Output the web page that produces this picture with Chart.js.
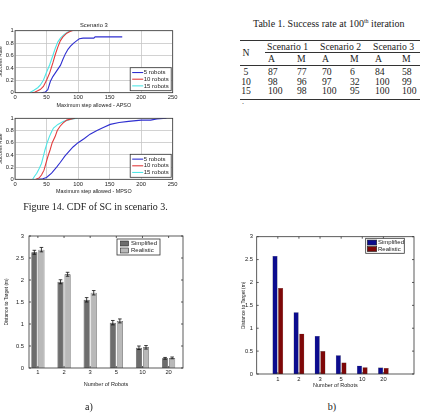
<!DOCTYPE html>
<html><head><meta charset="utf-8"><title>CDF and distance charts</title>
<script src="https://cdn.jsdelivr.net/npm/chart.js@4.4.1/dist/chart.umd.min.js"></script>
<style>
html,body{margin:0;padding:0;background:#fff;}
body{width:422px;height:414px;overflow:hidden;position:relative;font-family:"Liberation Serif","Times New Roman",serif;color:#1a1a1a;}
canvas{position:absolute;}
.tx{position:absolute;white-space:nowrap;line-height:1;transform:translate(0,-50%);}
.tc{position:absolute;white-space:nowrap;line-height:1;transform:translate(-50%,-50%);}
.rule{position:absolute;height:0;border-top:1px solid #333;}
sup{font-size:0.6em;vertical-align:0.6em;line-height:0;}
</style></head><body>
<script>
// ---------------- data ----------------
const cdfSeriesLabels = ['5 robots', '10 robots', '15 robots'];
const cdfXTicks = [0, 50, 100, 150, 200, 250];
const cdfYTicks = [0, 0.2, 0.4, 0.6, 0.8, 1];
// [max step allowed, success rate]
const apso5 = [[42,0],[48,0.01],[52,0.05],[56,0.18],[60,0.26],[64,0.32],[68,0.38],[72,0.44],[76,0.54],[80,0.63],[84,0.7],[88,0.75],[93,0.8],[98,0.84],[102,0.87],[108,0.88],[125,0.88],[127,0.9],[170,0.9]];
const apso10 = [[27,0],[32,0.01],[40,0.05],[45,0.1],[50,0.2],[55,0.32],[60,0.48],[64,0.62],[68,0.74],[72,0.84],[76,0.9],[82,0.96],[88,0.99],[91,1]];
const apso15 = [[23,0],[30,0.04],[36,0.08],[40,0.12],[45,0.2],[50,0.33],[55,0.45],[60,0.6],[64,0.72],[68,0.82],[72,0.88],[78,0.94],[84,0.98],[88,1]];
const mpso5 = [[37,0],[44,0.01],[50,0.03],[58,0.1],[66,0.2],[72,0.28],[79,0.38],[86,0.46],[92,0.53],[100,0.6],[110,0.67],[119,0.74],[130,0.8],[140,0.85],[151,0.9],[165,0.93],[180,0.95],[200,0.97],[215,0.97],[225,0.99],[240,1]];
const mpso10 = [[33,0],[38,0.02],[42,0.07],[46,0.15],[49,0.26],[52,0.37],[55.6,0.48],[59,0.6],[63.6,0.7],[67,0.8],[71.5,0.87],[76,0.92],[82,0.97],[90,0.99],[95,1]];
const mpso15 = [[28,0],[31,0.05],[34.5,0.1],[38,0.17],[42,0.26],[45,0.38],[47.5,0.48],[51,0.6],[54.5,0.7],[58,0.78],[61,0.84],[68,0.9],[77,0.95],[88,0.98],[98,1]];

const robotCounts = ['1', '2', '3', '5', '10', '20'];
const barLabels = ['Simplified', 'Realistic'];
const distTicks = [0, 0.5, 1, 1.5, 2, 2.5, 3];
const simplifiedA = [2.63, 1.96, 1.55, 1.03, 0.46, 0.22];
const realisticA  = [2.69, 2.13, 1.71, 1.07, 0.47, 0.23];
const simplifiedAErr = [0.045, 0.045, 0.05, 0.05, 0.04, 0.02];
const realisticAErr  = [0.05, 0.045, 0.05, 0.045, 0.04, 0.02];
const simplifiedB = [2.58, 1.35, 0.83, 0.41, 0.18, 0.14];
const realisticB  = [1.88, 0.88, 0.50, 0.25, 0.15, 0.13];

const tableScenarios = ['Scenario 1', 'Scenario 2', 'Scenario 3'];
const tableSubCols = ['A', 'M', 'A', 'M', 'A', 'M'];
const tableN = ['5', '10', '15'];
const tableRows = [
  [87, 77, 70, 6, 84, 58],
  [98, 96, 97, 32, 100, 99],
  [100, 98, 100, 95, 100, 100]
];

// ---------------- helpers ----------------
const SANS = "'Liberation Sans', Arial, Helvetica, sans-serif";
const TXT = '#222';
function mkCanvas(left, top, w, h) {
  const c = document.createElement('canvas');
  c.width = w; c.height = h;
  c.style.left = left + 'px'; c.style.top = top + 'px';
  c.style.width = w + 'px'; c.style.height = h + 'px';
  document.body.appendChild(c);
  return c;
}
function addText(cls, x, y, size, html) {
  const d = document.createElement('div');
  d.className = cls;
  d.style.left = x + 'px'; d.style.top = y + 'px'; d.style.fontSize = size + 'px';
  d.innerHTML = html;
  document.body.appendChild(d);
}
function addRule(x1, x2, y) {
  const d = document.createElement('div');
  d.className = 'rule';
  d.style.left = x1 + 'px'; d.style.width = (x2 - x1) + 'px'; d.style.top = y + 'px';
  document.body.appendChild(d);
}
const toXY = arr => arr.map(p => ({x: p[0], y: p[1]}));
const fmt = v => String(+(+v).toFixed(2));

// ---------------- plugins ----------------
const framePlugin = {
  id: 'frame',
  afterDatasetsDraw(chart, args, o) {
    const {ctx, chartArea: a} = chart;
    ctx.save();
    ctx.strokeStyle = o.color || '#333';
    ctx.lineWidth = o.width || 0.8;
    const tl = o.tick || 0;
    if (tl) {
      ctx.beginPath();
      const ys = chart.scales.y, xs = chart.scales.x;
      ys.ticks.forEach(t => { const y = ys.getPixelForValue(t.value);
        ctx.moveTo(a.left, y); ctx.lineTo(a.left + tl, y);
        ctx.moveTo(a.right, y); ctx.lineTo(a.right - tl, y); });
      xs.ticks.forEach(t => { const x = xs.getPixelForValue(t.value);
        ctx.moveTo(x, a.bottom); ctx.lineTo(x, a.bottom - tl);
        ctx.moveTo(x, a.top); ctx.lineTo(x, a.top + tl); });
      ctx.stroke();
    }
    ctx.strokeRect(a.left, a.top, a.right - a.left, a.bottom - a.top);
    if (o.title) {
      ctx.fillStyle = TXT;
      ctx.font = o.titleSize + 'px ' + SANS;
      ctx.textAlign = 'center'; ctx.textBaseline = 'middle';
      ctx.fillText(o.title, (a.left + a.right) / 2, a.top - o.titleGap);
    }
    ctx.restore();
  }
};
const errorBarPlugin = {
  id: 'errorBars',
  afterDatasetsDraw(chart) {
    const ctx = chart.ctx, ys = chart.scales.y;
    ctx.save(); ctx.strokeStyle = '#111'; ctx.lineWidth = 0.8;
    chart.data.datasets.forEach((ds, di) => {
      if (!ds.errorBars) return;
      const meta = chart.getDatasetMeta(di);
      meta.data.forEach((el, i) => {
        const v = ds.data[i].y, e = ds.errorBars[i];
        const x = el.x, y1 = ys.getPixelForValue(v + e), y2 = ys.getPixelForValue(v - e);
        const cap = 1.8;
        ctx.beginPath();
        ctx.moveTo(x, y1); ctx.lineTo(x, y2);
        ctx.moveTo(x - cap, y1); ctx.lineTo(x + cap, y1);
        ctx.moveTo(x - cap, y2); ctx.lineTo(x + cap, y2);
        ctx.stroke();
      });
    });
    ctx.restore();
  }
};
const insideLegendPlugin = {
  id: 'insideLegend',
  afterDraw(chart, args, o) {
    const {ctx, chartArea: a} = chart;
    const dss = chart.data.datasets;
    const x0 = a.right - o.right - o.w;
    const y0 = (o.top !== undefined && o.top !== null) ? a.top + o.top : a.bottom - o.bottom - o.h;
    ctx.save();
    ctx.fillStyle = '#fff';
    ctx.fillRect(x0, y0, o.w, o.h);
    ctx.strokeStyle = '#333'; ctx.lineWidth = 0.8;
    ctx.strokeRect(x0, y0, o.w, o.h);
    const rowH = (o.h - 2 * o.pad) / dss.length;
    ctx.font = o.size + 'px ' + SANS;
    ctx.textBaseline = 'middle'; ctx.textAlign = 'left';
    dss.forEach((ds, i) => {
      const cy = y0 + o.pad + (i + 0.5) * rowH;
      if (o.kind === 'line') {
        ctx.strokeStyle = ds.borderColor; ctx.lineWidth = 1.1;
        ctx.beginPath(); ctx.moveTo(x0 + o.sx, cy); ctx.lineTo(x0 + o.sx + o.sw, cy); ctx.stroke();
      } else {
        ctx.fillStyle = ds.backgroundColor;
        ctx.fillRect(x0 + o.sx, cy - o.sh / 2, o.sw, o.sh);
        ctx.strokeStyle = '#222'; ctx.lineWidth = 0.6;
        ctx.strokeRect(x0 + o.sx, cy - o.sh / 2, o.sw, o.sh);
      }
      ctx.fillStyle = TXT;
      ctx.fillText(ds.label, x0 + o.tx, cy);
    });
    ctx.restore();
  }
};

// ---------------- CDF charts ----------------
const cdfColors = ['#2f2fd0', '#e23c3c', '#4fe6e6'];
function cdfChart(canvas, series, xTitle, opts) {
  return new Chart(canvas, {
    type: 'line',
    data: {
      datasets: series.map((s, i) => ({
        label: cdfSeriesLabels[i], data: toXY(s),
        borderColor: cdfColors[i], backgroundColor: cdfColors[i],
        borderWidth: 1.1, pointRadius: 0, tension: 0, fill: false
      }))
    },
    options: {
      responsive: false, animation: false, devicePixelRatio: 1,
      layout: {padding: {left: 0, right: opts.padRight, top: opts.padTop, bottom: 0}},
      plugins: {
        legend: {display: false}, tooltip: {enabled: false},
        frame: {color: '#3a3a3a', width: 0.8, title: opts.title, titleSize: 5.8, titleGap: 5.5},
        insideLegend: {kind: 'line', right: 1.5, bottom: 2, w: 41, h: 23, pad: 1.5, sx: 2, sw: 11, tx: 13.5, size: 6}
      },
      scales: {
        x: {
          type: 'linear', min: 0, max: 250,
          afterBuildTicks: s => { s.ticks = cdfXTicks.map(v => ({value: v})); },
          ticks: {callback: fmt, font: {size: 5.8, family: SANS}, color: TXT, padding: 1.2, maxRotation: 0},
          grid: {color: '#c6c6c6', lineWidth: 0.8, drawTicks: false},
          border: {display: false},
          title: {display: true, text: xTitle, font: {size: 5.4, family: SANS}, color: TXT, padding: {top: 0, bottom: 2.6}},
          afterFit: s => { s.height = opts.xHeight; }
        },
        y: {
          min: 0, max: 1,
          afterBuildTicks: s => { s.ticks = cdfYTicks.map(v => ({value: v})); },
          ticks: {callback: fmt, font: {size: 5.8, family: SANS}, color: TXT, padding: 1.2},
          grid: {color: '#c6c6c6', lineWidth: 0.8, drawTicks: false},
          border: {display: false},
          title: {display: true, text: 'Success Rate', font: {size: 5, family: SANS}, color: TXT, padding: {top: 0, bottom: 0}},
          afterFit: s => { s.width = 17; }
        }
      }
    },
    plugins: [framePlugin, insideLegendPlugin]
  });
}
cdfChart(mkCanvas(-2, 18, 182, 93), [apso5, apso10, apso15], 'Maximum step allowed - APSO',
  {padRight: 7.3, padTop: 12.7, xHeight: 18.3, title: 'Scenario 3'});
cdfChart(mkCanvas(-2, 110, 182, 87), [mpso5, mpso10, mpso15], 'Maximum step allowed - MPSO',
  {padRight: 7.3, padTop: 8.3, xHeight: 17.7, title: ''});

// ---------------- bar charts ----------------
function barChart(canvas, vals, colors, errs, opts) {
  return new Chart(canvas, {
    type: 'bar',
    data: {
      datasets: vals.map((arr, i) => ({
        label: barLabels[i],
        data: arr.map((v, j) => ({x: j + 1, y: v})),
        backgroundColor: colors[i], borderColor: opts.barBorder, borderWidth: opts.barBorderWidth,
        categoryPercentage: opts.catPct, barPercentage: opts.barPct,
        errorBars: errs ? errs[i] : null
      }))
    },
    options: {
      responsive: false, animation: false, devicePixelRatio: 1,
      layout: {padding: {left: 0, right: opts.padRight, top: opts.padTop, bottom: 0}},
      plugins: {
        legend: {display: false}, tooltip: {enabled: false},
        frame: {color: '#333', width: 0.8, tick: 2},
        insideLegend: Object.assign({kind: 'box', pad: 1, size: 6}, opts.legend)
      },
      scales: {
        x: {
          type: 'linear', min: opts.xMin, max: opts.xMax, offset: false,
          afterBuildTicks: s => { s.ticks = robotCounts.map((c, i) => ({value: i + 1})); },
          ticks: {callback: (v) => robotCounts[Math.round(v) - 1] || '', font: {size: 5.8, family: SANS}, color: TXT, padding: opts.xTickPad, maxRotation: 0, autoSkip: false},
          grid: {display: false, drawTicks: false},
          border: {display: false},
          title: {display: true, text: 'Number of Robots', font: {size: 5.5, family: SANS}, color: TXT, padding: {top: 0, bottom: opts.xTitlePad}},
          afterFit: s => { s.height = opts.xHeight; }
        },
        y: {
          min: 0, max: 3,
          afterBuildTicks: s => { s.ticks = distTicks.map(v => ({value: v})); },
          ticks: {callback: fmt, font: {size: 5.8, family: SANS}, color: TXT, padding: opts.yTickPad},
          grid: {display: false, drawTicks: false},
          border: {display: false},
          title: {display: true, text: 'Distance to Target (m)', font: {size: 4.8, family: SANS}, color: TXT, padding: {top: opts.yTitlePad, bottom: 0}},
          afterFit: s => { s.width = opts.yWidth; }
        }
      }
    },
    plugins: [framePlugin, errorBarPlugin, insideLegendPlugin]
  });
}
barChart(mkCanvas(0, 225, 195, 165), [simplifiedA, realisticA], ['#6d6d6d', '#b9b9b9'], [simplifiedAErr, realisticAErr], {
  padRight: 12, padTop: 11, xHeight: 22, yWidth: 29, xMin: 0.66, xMax: 6.55,
  catPct: 0.54, barPct: 0.86, barBorder: '#2a2a2a', barBorderWidth: 0.6,
  xTickPad: 1, xTitlePad: 2.4, yTickPad: 5, yTitlePad: 3.4,
  legend: {right: 23, top: 3, w: 43, h: 16, sx: 3.5, sw: 8, sh: 5, tx: 14}
});
barChart(mkCanvas(210, 225, 212, 164), [simplifiedB, realisticB], ['#0c0c8e', '#7e0808'], null, {
  padRight: 8, padTop: 11.7, xHeight: 15, yWidth: 46.7, xMin: 0, xMax: 7.45,
  catPct: 0.53, barPct: 0.9, barBorder: '#111', barBorderWidth: 0.3,
  xTickPad: 1.8, xTitlePad: 0.6, yTickPad: 3.7, yTitlePad: 30.4,
  legend: {right: 9.7, top: 1.6, w: 38.6, h: 15, sx: 1.6, sw: 9.4, sh: 5, tx: 12.3}
});

// ---------------- captions & table (text) ----------------
addText('tc', 95.5, 207, 10, 'Figure 14. CDF of SC in scenario 3.');
addText('tc', 89, 407, 10, 'a)');
addText('tc', 332, 407, 10, 'b)');
addText('tx', 253, 24, 10, 'Table 1. Success rate at 100<sup>th</sup> iteration');
const tRuleL = 240, tRuleR = 420;
addRule(tRuleL, tRuleR, 39.5);
addRule(265, tRuleR, 52);
addRule(tRuleL, tRuleR, 64.5);
addRule(tRuleL, tRuleR, 98.5);
addText('tc', 246, 53, 9.7, 'N');
const scenX = [267, 320, 373];
tableScenarios.forEach((s, i) => addText('tx', scenX[i], 46.5, 9.7, s));
const colX = [268, 297, 322, 350, 375, 402];
tableSubCols.forEach((s, i) => addText('tx', colX[i], 58.5, 9.7, s));
const rowY = [72, 81.5, 91];
tableN.forEach((n, r) => {
  addText('tc', 246, rowY[r], 9.7, n);
  tableRows[r].forEach((v, c) => addText('tx', colX[c], rowY[r], 9.7, String(v)));
});
addText('tc', 243, 102, 8, '.');
</script>
</body></html>
